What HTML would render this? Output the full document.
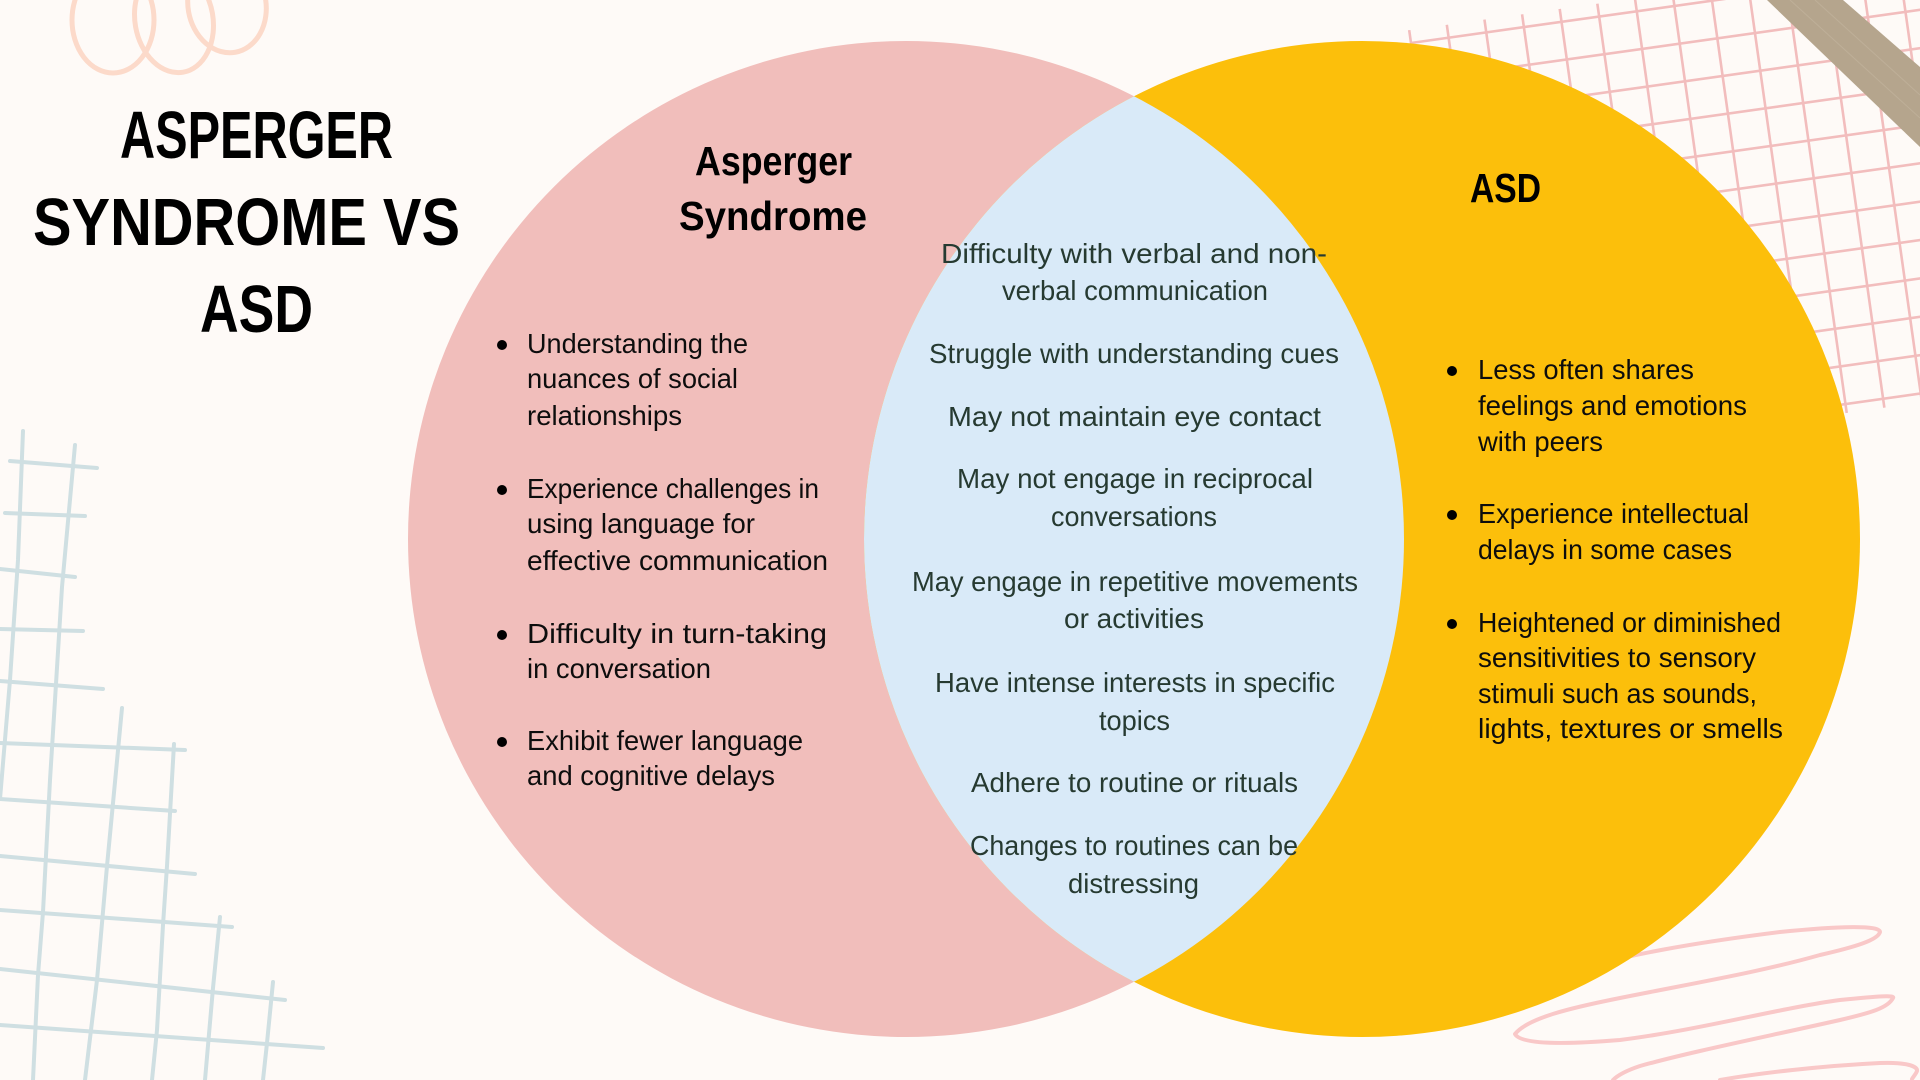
<!DOCTYPE html>
<html>
<head>
<meta charset="utf-8">
<style>
  html,body{margin:0;padding:0;background:#FEFAF7;}
  svg{display:block;}
  text{font-family:"Liberation Sans", sans-serif;}
</style>
</head>
<body>
<svg width="1920" height="1080" viewBox="0 0 1920 1080" xmlns="http://www.w3.org/2000/svg">
  <defs>
    <clipPath id="pinkClip">
      <circle cx="906" cy="539" r="498"/>
    </clipPath>
  </defs>
  <rect x="0" y="0" width="1920" height="1080" fill="#FEFAF7"/>

  <!-- top-left peach loops -->
  <g fill="none" stroke="#FCDACA" stroke-width="5">
    <ellipse cx="113" cy="20" rx="41" ry="53"/>
    <ellipse cx="174" cy="20" rx="39" ry="53" transform="rotate(-10 174 20)"/>
    <ellipse cx="227" cy="5" rx="39" ry="48" transform="rotate(-10 227 5)"/>
  </g>

  <!-- left blue hand-drawn grid -->
  <g fill="none" stroke="#CFDFE2" stroke-width="4" stroke-linecap="round">
    <path d="M23 431 L18 560 L10 680 L0 799"/>
    <path d="M75 445 L62 587 L55 700 L50 780 L43 912 L38 975 L33 1080"/>
    <path d="M122 708 L115 782 L107 866 L97 980 L85 1080"/>
    <path d="M174 744 L167 866 L163 925 L157 1030 L152 1080"/>
    <path d="M220 917 L213 988 L205 1080"/>
    <path d="M273 982 L267 1043 L263 1080"/>
    <path d="M10 461 L97 468"/>
    <path d="M5 513 L85 516"/>
    <path d="M0 569 L75 577"/>
    <path d="M0 629 L83 631"/>
    <path d="M0 681 L103 689"/>
    <path d="M0 743 L185 750"/>
    <path d="M0 799 L175 811"/>
    <path d="M0 856 L195 874"/>
    <path d="M0 910 L232 927"/>
    <path d="M0 969 L285 1000"/>
    <path d="M0 1025 L323 1048"/>
  </g>

  <!-- right pink grid (rotated) -->
  <g transform="rotate(-8 1411 43)" stroke="#F2BDBD" stroke-width="2.6" fill="none">
    <g>
      <line x1="1411" y1="43" x2="1990" y2="43"/>
      <line x1="1411" y1="81" x2="1990" y2="81"/>
      <line x1="1411" y1="119" x2="1990" y2="119"/>
      <line x1="1411" y1="157" x2="1990" y2="157"/>
      <line x1="1411" y1="195" x2="1990" y2="195"/>
      <line x1="1411" y1="233" x2="1990" y2="233"/>
      <line x1="1411" y1="271" x2="1990" y2="271"/>
      <line x1="1411" y1="309" x2="1990" y2="309"/>
      <line x1="1411" y1="347" x2="1990" y2="347"/>
      <line x1="1411" y1="385" x2="1990" y2="385"/>
      <line x1="1411" y1="423" x2="1990" y2="423"/>
      <line x1="1411" y1="461" x2="1990" y2="461"/>
    </g>
    <g>
      <line x1="1411" y1="30" x2="1411" y2="470"/>
      <line x1="1449" y1="30" x2="1449" y2="470"/>
      <line x1="1487" y1="30" x2="1487" y2="470"/>
      <line x1="1525" y1="30" x2="1525" y2="470"/>
      <line x1="1563" y1="30" x2="1563" y2="470"/>
      <line x1="1601" y1="30" x2="1601" y2="470"/>
      <line x1="1639" y1="30" x2="1639" y2="470"/>
      <line x1="1677" y1="30" x2="1677" y2="470"/>
      <line x1="1715" y1="30" x2="1715" y2="470"/>
      <line x1="1753" y1="30" x2="1753" y2="470"/>
      <line x1="1791" y1="30" x2="1791" y2="470"/>
      <line x1="1829" y1="30" x2="1829" y2="470"/>
      <line x1="1867" y1="30" x2="1867" y2="470"/>
      <line x1="1905" y1="30" x2="1905" y2="470"/>
      <line x1="1943" y1="30" x2="1943" y2="470"/>
      <line x1="1981" y1="30" x2="1981" y2="470"/>
    </g>
  </g>

  <!-- tape -->
  <polygon points="1767,0 1843,0 1920,67 1920,147" fill="#B5A58D"/>
  <g stroke="#C4B6A0" stroke-width="1" opacity="0.6">
    <line x1="1790" y1="0" x2="1920" y2="118"/>
    <line x1="1815" y1="0" x2="1920" y2="95"/>
  </g>

  <!-- bottom-right pink scribble -->
  <g fill="none" stroke="#F9C8C8" stroke-width="4" stroke-linecap="round" stroke-linejoin="round">
    <path d="M1560 975 C1620 955 1700 942 1780 932 C1840 926 1880 925 1880 932 C1878 940 1855 947 1820 955 C1760 972 1700 982 1620 998 C1570 1008 1528 1018 1515 1034 C1520 1044 1560 1045 1620 1040 C1700 1030 1780 1008 1840 1000 C1880 996 1895 995 1893 998 C1888 1008 1870 1013 1840 1020 C1760 1038 1690 1052 1640 1066 C1625 1071 1617 1076 1613 1080"/>
    <path d="M1720 1080 C1760 1073 1820 1066 1880 1063 C1905 1062 1918 1066 1917 1071 C1916 1074 1913 1077 1912 1079"/>
  </g>

  <!-- Venn circles -->
  <circle cx="906" cy="539" r="498" fill="#F1BEBB"/>
  <circle cx="1362" cy="539" r="498" fill="#FCBF0B"/>
  <circle cx="1362" cy="539" r="498" fill="#D9EAF8" clip-path="url(#pinkClip)"/>

  <!-- Title -->
  <g font-weight="bold" fill="#000" font-size="67">
    <text x="120" y="158" textLength="273" lengthAdjust="spacingAndGlyphs">ASPERGER</text>
    <text x="33" y="245" textLength="427" lengthAdjust="spacingAndGlyphs">SYNDROME VS</text>
    <text x="200" y="332" textLength="113" lengthAdjust="spacingAndGlyphs">ASD</text>
  </g>

  <!-- Circle headings -->
  <g font-weight="bold" fill="#000" font-size="41">
    <text x="695" y="175" textLength="157" lengthAdjust="spacingAndGlyphs">Asperger</text>
    <text x="679" y="230" textLength="188" lengthAdjust="spacingAndGlyphs">Syndrome</text>
    <text x="1470" y="202" textLength="71" lengthAdjust="spacingAndGlyphs">ASD</text>
  </g>

  <!-- Left bullets -->
  <g fill="#000">
    <circle cx="502" cy="345" r="5"/>
    <circle cx="502" cy="490" r="5"/>
    <circle cx="502" cy="635" r="5"/>
    <circle cx="502" cy="742" r="5"/>
  </g>
  <g fill="#0d0d0d" font-size="28">
    <text x="527" y="353" textLength="221" lengthAdjust="spacingAndGlyphs">Understanding the</text>
    <text x="527" y="388" textLength="211" lengthAdjust="spacingAndGlyphs">nuances of social</text>
    <text x="527" y="425" textLength="155" lengthAdjust="spacingAndGlyphs">relationships</text>
    <text x="527" y="498" textLength="292" lengthAdjust="spacingAndGlyphs">Experience challenges in</text>
    <text x="527" y="533" textLength="228" lengthAdjust="spacingAndGlyphs">using language for</text>
    <text x="527" y="570" textLength="301" lengthAdjust="spacingAndGlyphs">effective communication</text>
    <text x="527" y="643" textLength="300" lengthAdjust="spacingAndGlyphs">Difficulty in turn-taking</text>
    <text x="527" y="678" textLength="184" lengthAdjust="spacingAndGlyphs">in conversation</text>
    <text x="527" y="750" textLength="276" lengthAdjust="spacingAndGlyphs">Exhibit fewer language</text>
    <text x="527" y="785" textLength="248" lengthAdjust="spacingAndGlyphs">and cognitive delays</text>
  </g>

  <!-- Center lines -->
  <g fill="#263A31" font-size="28">
    <text x="941" y="263" textLength="386" lengthAdjust="spacingAndGlyphs">Difficulty with verbal and non-</text>
    <text x="1002" y="300" textLength="266" lengthAdjust="spacingAndGlyphs">verbal communication</text>
    <text x="929" y="363" textLength="410" lengthAdjust="spacingAndGlyphs">Struggle with understanding cues</text>
    <text x="948" y="426" textLength="373" lengthAdjust="spacingAndGlyphs">May not maintain eye contact</text>
    <text x="957" y="488" textLength="356" lengthAdjust="spacingAndGlyphs">May not engage in reciprocal</text>
    <text x="1051" y="526" textLength="166" lengthAdjust="spacingAndGlyphs">conversations</text>
    <text x="912" y="591" textLength="446" lengthAdjust="spacingAndGlyphs">May engage in repetitive movements</text>
    <text x="1064" y="628" textLength="140" lengthAdjust="spacingAndGlyphs">or activities</text>
    <text x="935" y="692" textLength="400" lengthAdjust="spacingAndGlyphs">Have intense interests in specific</text>
    <text x="1099" y="730" textLength="71" lengthAdjust="spacingAndGlyphs">topics</text>
    <text x="971" y="792" textLength="327" lengthAdjust="spacingAndGlyphs">Adhere to routine or rituals</text>
    <text x="970" y="855" textLength="328" lengthAdjust="spacingAndGlyphs">Changes to routines can be</text>
    <text x="1068" y="893" textLength="131" lengthAdjust="spacingAndGlyphs">distressing</text>
  </g>

  <!-- Right bullets -->
  <g fill="#000">
    <circle cx="1452" cy="371" r="5"/>
    <circle cx="1452" cy="515" r="5"/>
    <circle cx="1452" cy="624" r="5"/>
  </g>
  <g fill="#0d0d0d" font-size="28">
    <text x="1478" y="379" textLength="216" lengthAdjust="spacingAndGlyphs">Less often shares</text>
    <text x="1478" y="415" textLength="269" lengthAdjust="spacingAndGlyphs">feelings and emotions</text>
    <text x="1478" y="451" textLength="125" lengthAdjust="spacingAndGlyphs">with peers</text>
    <text x="1478" y="523" textLength="271" lengthAdjust="spacingAndGlyphs">Experience intellectual</text>
    <text x="1478" y="559" textLength="254" lengthAdjust="spacingAndGlyphs">delays in some cases</text>
    <text x="1478" y="632" textLength="303" lengthAdjust="spacingAndGlyphs">Heightened or diminished</text>
    <text x="1478" y="667" textLength="278" lengthAdjust="spacingAndGlyphs">sensitivities to sensory</text>
    <text x="1478" y="703" textLength="279" lengthAdjust="spacingAndGlyphs">stimuli such as sounds,</text>
    <text x="1478" y="738" textLength="305" lengthAdjust="spacingAndGlyphs">lights, textures or smells</text>
  </g>
</svg>
</body>
</html>
